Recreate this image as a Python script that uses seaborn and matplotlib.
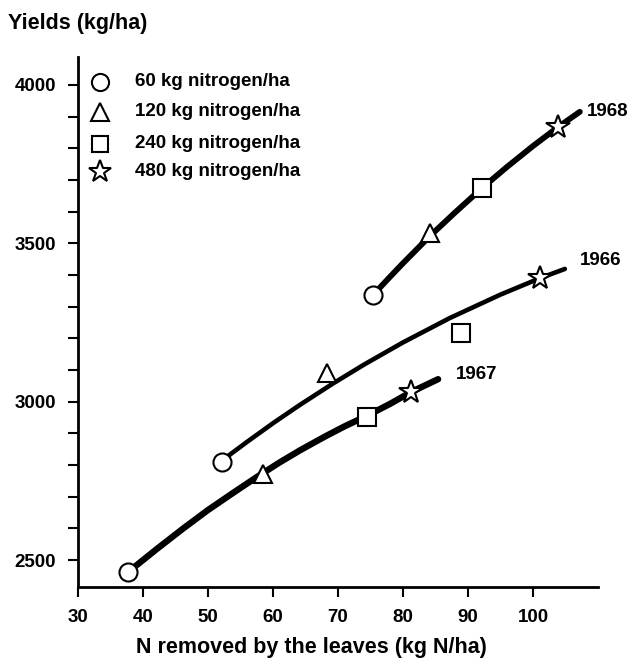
import matplotlib
matplotlib.use("Agg")
import matplotlib.pyplot as plt
import seaborn as sns
import pandas as pd
import numpy as np

sns.set_theme(style="ticks")
plt.rcParams['font.family'] = ['Liberation Sans', 'DejaVu Sans']
plt.rcParams['text.color'] = 'black'

# ---- data ----
nitrogen_labels = ["60 kg nitrogen/ha", "120 kg nitrogen/ha",
                   "240 kg nitrogen/ha", "480 kg nitrogen/ha"]
years = ["1966", "1967", "1968"]

x_1966 = [52.2, 68.3, 88.9, 101.1]
y_1966 = [2809, 3090, 3217, 3390]
x_1967 = [37.7, 58.5, 74.5, 81.2]
y_1967 = [2462, 2772, 2952, 3030]
x_1968 = [75.4, 84.2, 92.2, 103.8]
y_1968 = [3337, 3533, 3675, 3867]

# fitted response curves
cx_1966 = [52.2, 56, 60, 64, 69.2, 74, 80, 87.2, 95, 101.1, 104.9]
cy_1966 = [2815, 2873, 2932, 2988, 3057, 3117, 3187, 3264, 3338, 3390, 3419]
cx_1967 = [37.7, 42, 46.2, 50, 54, 57.5, 61, 64.2, 68, 71, 74.5, 78, 81.2, 85.4]
cy_1967 = [2462, 2533, 2600, 2658, 2714, 2762, 2808, 2847, 2890, 2922, 2956, 2993, 3030, 3071]
cx_1968 = [75.4, 78, 80, 84.2, 88, 92.2, 96, 100, 103.8, 107.2]
cy_1968 = [3337, 3394, 3437, 3524, 3597, 3675, 3741, 3807, 3866, 3915]

x_ticks = [30, 40, 50, 60, 70, 80, 90, 100]
y_major = [2500, 3000, 3500, 4000]

# ---- styles ----
markers = ['o', '^', 's', '*']
msizes = [13, 13.5, 12.5, 17.5]
line_w = {"1966": 3.3, "1967": 4.6, "1968": 4.2}
label_pos = {"1968": (108.3, 3915), "1966": (107.2, 3447), "1967": (88.2, 3085)}

points = {"1966": (x_1966, y_1966), "1967": (x_1967, y_1967), "1968": (x_1968, y_1968)}
curves = {"1966": (cx_1966, cy_1966), "1967": (cx_1967, cy_1967), "1968": (cx_1968, cy_1968)}

W, H = 639, 661
fig = plt.figure(figsize=(W / 100, H / 100), dpi=100)
ax = fig.add_axes([78 / W, 1 - 587 / H, (598 - 78) / W, (587 - 57) / H])

FS = 13.5
FST = 15.5
WT = "bold"
for yr in years:
    cx, cy = curves[yr]
    dfc = pd.DataFrame({"x": cx, "y": cy})
    sns.lineplot(data=dfc, x="x", y="y", ax=ax, color="black",
                 linewidth=line_w[yr], sort=False, estimator=None,
                 solid_capstyle="round", solid_joinstyle="round", zorder=2)
    px, py = points[yr]
    for i in range(4):
        ax.plot([px[i]], [py[i]], marker=markers[i], markersize=msizes[i],
                markerfacecolor="white", markeredgecolor="black",
                markeredgewidth=1.5, linestyle="none", zorder=3)
    ax.text(label_pos[yr][0], label_pos[yr][1], yr, fontsize=FS, fontweight=WT,
            ha="left", va="center", color="black")

ax.set_xlim(30, 110)
ax.set_ylim(2415, 4088)
ax.set_xticks(x_ticks)
ax.set_xticklabels([str(v) for v in x_ticks], fontsize=FS, fontweight=WT)
ax.set_yticks(y_major)
ax.set_yticklabels([str(v) for v in y_major], fontsize=FS, fontweight=WT)
ax.set_yticks(np.arange(2500, 4001, 100), minor=True)
ax.tick_params(axis="both", which="both", direction="out", length=7,
               width=1.5, color="black", labelcolor="black")
ax.tick_params(axis="x", which="major", pad=9)
ax.tick_params(axis="y", which="major", pad=9)
ax.set_xlabel("")
ax.set_ylabel("")
for s in ["top", "right"]:
    ax.spines[s].set_visible(False)
for s in ["left", "bottom"]:
    ax.spines[s].set_linewidth(2)
    ax.spines[s].set_color("black")
ax.set_facecolor("white")

# legend (key placed as in the original)
leg_rows = [82, 112, 144, 172]
for i in range(4):
    ax.plot([100 / W], [1 - leg_rows[i] / H], marker=markers[i],
            markersize=msizes[i] * 0.95, markerfacecolor="white",
            markeredgecolor="black", markeredgewidth=1.5, linestyle="none",
            transform=fig.transFigure, clip_on=False, zorder=4)
    fig.text(135 / W, 1 - leg_rows[i] / H, nitrogen_labels[i], fontsize=FS,
             fontweight=WT, ha="left", va="center", color="black")

fig.text(8 / W, 1 - 23 / H, "Yields (kg/ha)", fontsize=FST, fontweight=WT,
         ha="left", va="center", color="black")
fig.text(311 / W, 1 - 647 / H, "N removed by the leaves (kg N/ha)", fontsize=FST,
         fontweight=WT, ha="center", va="center", color="black")

fig.savefig("out.png", dpi=100, facecolor="white")
